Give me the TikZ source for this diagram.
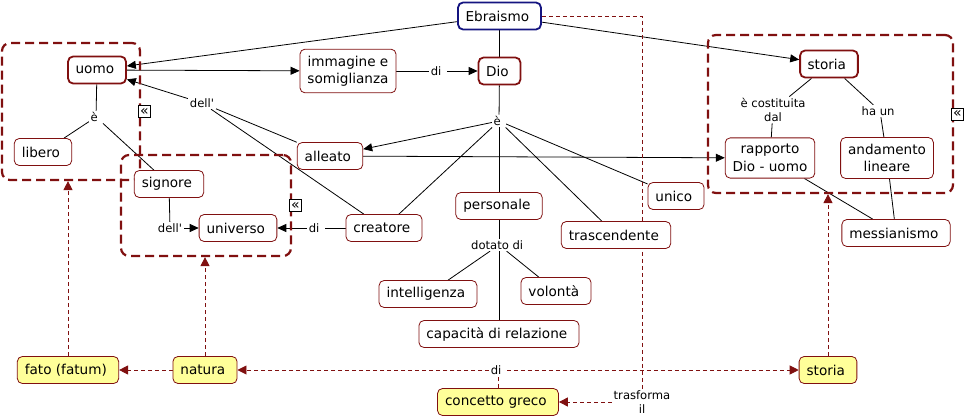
\documentclass[tikz,border=0pt]{standalone}
\usepackage{fontspec}
\setmainfont{DejaVu Sans}
\usepackage{tikz}
\usetikzlibrary{positioning, arrows.meta}
\definecolor{cmapred}{RGB}{128,16,16}
\definecolor{cmapblue}{RGB}{20,20,128}
\definecolor{cmapyellow}{RGB}{255,255,153}
\pgfdeclarelayer{paper}
\pgfdeclarelayer{wires}
\pgfsetlayers{paper,wires,main}

\begin{document}
\begin{tikzpicture}[x = 1pt, y = -1pt,
      concept/.style = { draw = cmapred, fill = white, rounded corners = 5pt, align = center,
        inner xsep = 7.5pt, inner ysep = 6.5pt, minimum height = 27pt, line width = 0.8pt,
        font = \fontsize{13.6}{17.5}\selectfont },
      headconcept/.style = { concept, line width = 1.8pt },
      topic/.style = { headconcept, draw = cmapblue },
      greek/.style = { concept, fill = cmapyellow },
      phrase/.style = { fill = white, align = center, inner sep = 1.5pt,
        font = \fontsize{11.6}{14}\selectfont },
      cluster/.style = { draw = cmapred, line width = 2.2pt, dash pattern = on 9pt off 5pt,
        rounded corners = 8pt },
      toggle/.style = { draw, fill = white, inner sep = 0pt, minimum size = 12pt,
        line width = 0.7pt, font = \fontsize{14}{14}\selectfont },
      rel/.style = { line width = 0.8pt },
      relto/.style = { rel, -{Triangle[length = 9pt, width = 8pt]} },
      drel/.style = { draw = cmapred, line width = 0.9pt, dash pattern = on 4pt off 3pt },
      drelto/.style = { drel, -{Triangle[length = 9pt, width = 9pt]} } ]
      \begin{pgfonlayer}{paper}
        \fill[white] (0,0) rectangle (966,420);
      \end{pgfonlayer}
      \useasboundingbox (0,0) rectangle (966,420);

      \node[cluster, minimum width = 138pt, minimum height = 137pt] (grpA) at (71,111.5) {};
      \node[cluster, minimum width = 170pt, minimum height = 101pt] (grpB) at (206,205.5) {};
      \node[cluster, minimum width = 245pt, minimum height = 158pt] (grpC) at (830.5,114) {};
      \node[toggle, right = -3pt of grpA.east] (togA) { « };
      \node[toggle, right = -3pt of grpB.east] (togB) { « };
      \node[toggle, right = -3pt of grpC.east] (togC) { « };

      \node[topic] (ebr) at (499.5,16) { Ebraismo };
      \node[headconcept] (uomo) at (97,70) { uomo };
      \node[concept] (imm) at (348,71) { immagine e \\ somiglianza };
      \node[headconcept] (dio) at (499.5,71) { Dio };
      \node[headconcept] (storia) at (829,64) { storia };
      \node[concept] (libero) at (43,152) { libero };
      \node[concept] (alleato) at (330,156) { alleato };
      \node[concept] (rapp) at (770,158) { rapporto \\ Dio - uomo };
      \node[concept] (andam) at (887,158) { andamento \\ lineare };
      \node[concept] (signore) at (169,184) { signore };
      \node[concept] (unico) at (676,196) { unico };
      \node[concept] (pers) at (499,206) { personale };
      \node[concept] (univ) at (238,228) { universo };
      \node[concept] (creat) at (384,228) { creatore };
      \node[concept] (trasc) at (616,235) { trascendente };
      \node[concept] (mess) at (896,233) { messianismo };
      \node[concept] (intel) at (428,294) { intelligenza };
      \node[concept] (vol) at (556,291) { volontà };
      \node[concept] (capac) at (499,334) { capacità di relazione };
      \node[greek] (fato) at (68,370) { fato (fatum) };
      \node[greek] (natura) at (205,370) { natura };
      \node[greek] (storiag) at (828,370) { storia };
      \node[greek] (greco) at (498,402) { concetto greco };

      \node[phrase] (eUomo) at (96,117) { è };
      \node[phrase] (dellA) at (202,103) { dell\textquotesingle };
      \node[phrase] (diImm) at (438,71) { di };
      \node[phrase] (eDio) at (499,121) { è };
      \node[phrase] (costit) at (773,110) { è costituita \\ dal };
      \node[phrase] (haun) at (880,111) { ha un };
      \node[phrase] (dellU) at (170,228) { dell\textquotesingle };
      \node[phrase] (diCreat) at (316,228) { di };
      \node[phrase] (dotato) at (499,245) { dotato di };
      \node[phrase] (diGreco) at (498,370) { di };
      \node[phrase] (trasf) at (642,402) { trasforma \\ il };

      \begin{pgfonlayer}{wires}
        \draw[relto] (ebr) -- (uomo);
        \draw[relto] (ebr) -- (storia);
        \draw[rel] (ebr) -- (dio);
        \draw[relto] (uomo) -- (imm);
        \draw[rel] (imm) -- (diImm);
        \draw[relto] (diImm) -- (dio);
        \draw[rel] (uomo) -- (eUomo);
        \draw[rel] (eUomo) -- (libero);
        \draw[rel] (eUomo) -- (signore);
        \draw[relto] (dellA) -- (uomo);
        \draw[rel] (alleato) -- (dellA);
        \draw[rel] (creat) -- (dellA);
        \draw[rel] (dio) -- (eDio);
        \draw[relto] (eDio) -- (alleato);
        \foreach \t in {creat, pers, trasc, unico}
          \draw[rel] (eDio) -- (\t);
        \draw[relto] (alleato) -- (rapp);
        \draw[rel] (storia) -- (costit);
        \draw[rel] (costit) -- (rapp);
        \draw[rel] (storia) -- (haun);
        \draw[rel] (haun) -- (andam);
        \draw[rel] (rapp) -- (mess);
        \draw[rel] (andam) -- (mess);
        \draw[rel] (signore) -- (dellU);
        \draw[relto] (dellU) -- (univ);
        \draw[rel] (creat) -- (diCreat);
        \draw[relto] (diCreat) -- (univ);
        \draw[rel] (pers) -- (dotato);
        \foreach \t in {intel, vol, capac}
          \draw[rel] (dotato) -- (\t);
        \draw[drel] (greco) -- (diGreco);
        \draw[drelto] (diGreco) -- (natura);
        \draw[drelto] (diGreco) -- (storiag);
        \draw[drelto] (natura) -- (fato);
        \draw[drelto] (natura) -- (natura |- grpB.south);
        \draw[drelto] (fato) -- (fato |- grpA.south);
        \draw[drelto] (storiag) -- (storiag |- grpC.south);
        \draw[drel] (ebr) -| (trasf);
        \draw[drelto] (trasf) -- (greco);
      \end{pgfonlayer}
    \end{tikzpicture}
\end{document}
